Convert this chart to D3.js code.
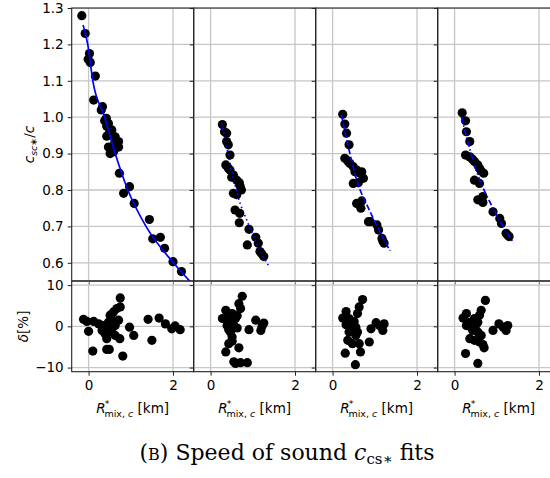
<!DOCTYPE html>
<head>
<meta charset="utf-8">
<title>Speed of sound fits</title>
<style>
    body { margin: 0; background: white; }
    svg { display: block; }
    .tick text { font: 13.5px "DejaVu Sans"; fill: #000; }
    .domain { display: none; }
    .tick line { stroke: #222; stroke-width: 1; }
    .grid line { stroke: #c6c6c6; stroke-width: 1.3; }
    .spine { fill: none; stroke: #222; stroke-width: 1.1; }
    .fit { fill: none; stroke: #0000ff; stroke-width: 1.7; }
    .lbl { font: 13.5px "DejaVu Sans"; fill: #000; }
    .cap { font: 22px "DejaVu Serif"; fill: #000; }
</style>
</head>
<body>
<svg></svg>
<script src="https://cdn.jsdelivr.net/npm/d3@7"></script>
<script>

    // ---- data ----
    var ratio1 = [[-0.16,1.279],[-0.08,1.23],[0.02,1.175],[-0.01,1.159],[0.04,1.15],[0.16,1.113],[0.12,1.047],
        [0.33,1.029],[0.30,1.02],[0.42,0.997],[0.47,0.983],[0.43,0.975],[0.55,0.965],[0.43,0.948],[0.63,0.946],
        [0.71,0.933],[0.47,0.918],[0.59,0.905],[0.51,0.9],[0.71,0.918],[0.73,0.846],[0.97,0.809],[0.83,0.791],
        [1.08,0.763],[1.44,0.719],[1.52,0.666],[1.70,0.67],[1.80,0.64],[2.0,0.603],[2.20,0.576],
        [0.50,0.96],[0.62,0.93],[0.38,0.99]];
    var ratio2 = [[0.28,0.98],[0.33,0.96],[0.38,0.956],[0.38,0.933],[0.42,0.924],[0.46,0.896],[0.36,0.869],
        [0.46,0.855],[0.42,0.86],[0.54,0.841],[0.50,0.835],[0.62,0.827],[0.68,0.82],[0.73,0.8],[0.54,0.791],
        [0.62,0.787],[0.58,0.745],[0.69,0.736],[0.68,0.71],[0.91,0.692],[0.87,0.649],[1.07,0.67],[1.13,0.654],
        [1.17,0.631],[1.26,0.617],[0.70,0.81],[1.21,0.625]];
    var ratio3 = [[0.24,1.008],[0.29,0.981],[0.33,0.956],[0.39,0.924],[0.29,0.887],[0.41,0.873],[0.49,0.864],
        [0.57,0.855],[0.65,0.846],[0.49,0.818],[0.61,0.82],[0.57,0.763],[0.67,0.75],[0.69,0.77],[0.69,0.85],
        [0.73,0.832],[0.85,0.713],[0.89,0.713],[1.05,0.704],[1.09,0.69],[1.17,0.667],[1.22,0.654],
        [0.36,0.88],[0.53,0.85],[1.19,0.66]];
    var ratio4 = [[0.18,1.012],[0.26,0.99],[0.28,0.96],[0.36,0.933],[0.26,0.896],[0.36,0.891],[0.47,0.878],
        [0.55,0.869],[0.59,0.86],[0.69,0.846],[0.47,0.827],[0.59,0.818],[0.67,0.782],[0.55,0.773],[0.67,0.766],
        [0.91,0.74],[1.07,0.722],[1.11,0.708],[1.22,0.681],[1.29,0.672],[0.42,0.885],[0.63,0.852],[1.26,0.676]];

    var fit1 = [[-0.13,1.253],[-0.02,1.2],[0.10,1.1],[0.38,1.0],[0.63,0.9],[0.93,0.8],[1.36,0.7],[2.01,0.6],[2.41,0.548]];
    var fit2 = [[0.27,0.983],[0.45,0.88],[0.65,0.782],[0.89,0.708],[1.1,0.65],[1.39,0.589]];
    var fit3 = [[0.21,1.006],[0.37,0.92],[0.57,0.828],[0.89,0.74],[1.36,0.633]];
    var fit4 = [[0.16,1.001],[0.51,0.855],[0.91,0.75],[1.40,0.654]];

    var resid1 = [[-0.12,1.7],[-0.04,1.2],[0.0,-1.2],[0.12,1.2],[0.10,-6.0],[0.32,-1.0],[0.39,-0.6],[0.43,-3.0],
        [0.47,1.0],[0.51,2.7],[0.59,3.5],[0.67,4.3],[0.75,6.9],[0.75,4.7],[0.71,1.5],[0.55,-1.4],[0.63,-2.2],
        [0.74,-3.0],[0.43,-5.6],[0.49,-5.6],[0.81,-7.2],[0.97,-0.2],[1.07,-2.2],[1.41,1.7],[1.5,-3.4],
        [1.67,2.0],[1.82,0.6],[1.97,-0.6],[2.05,0.1],[2.17,-0.8],[0.24,0.6],[0.36,0.2],[0.47,-0.2],
        [0.59,0.4],[0.39,-1.8],[0.55,1.8],[0.63,0.2]];
    var resid2 = [[0.75,7.3],[0.67,5.5],[0.71,4.3],[0.36,3.9],[0.28,1.9],[0.39,2.3],[0.51,3.1],[0.59,1.9],
        [0.39,0.2],[0.47,-1.4],[0.51,-2.6],[0.43,-4.2],[0.36,-6.2],[0.67,-5.2],[0.59,-9.0],[0.71,-8.8],
        [0.87,-8.8],[0.55,-8.6],[0.91,-0.8],[1.07,1.5],[1.19,-1.0],[1.26,0.8],[1.22,0],[0.55,0.2],
        [0.47,1.0],[0.63,-0.4],[0.51,-3.6],[0.43,-0.8],[0.63,2.6]];
    var resid3 = [[0.71,6.5],[0.63,4.7],[0.59,3.1],[0.32,3.6],[0.24,2.0],[0.39,1.9],[0.47,0.2],[0.39,-1.4],
        [0.59,-1.4],[0.36,-3.4],[0.47,-4.2],[0.63,-4.2],[0.87,-3.8],[0.30,-6.5],[0.66,-6.2],[0.54,-9.3],
        [0.91,-0.6],[1.03,0.9],[1.11,0.2],[1.22,0.6],[1.19,-1.0],[0.55,-2.2],[0.51,1.2],[0.43,-0.6],
        [0.55,-0.2],[0.32,0.4]];
    var resid4 = [[0.73,6.3],[0.63,3.9],[0.59,2.7],[0.28,3.1],[0.20,2.0],[0.36,1.0],[0.47,1.9],[0.28,0.2],
        [0.43,-1.0],[0.55,-1.4],[0.36,-3.0],[0.47,-3.4],[0.59,-3.8],[0.70,-5.2],[0.26,-6.6],[0.55,-9.0],
        [0.91,-1.0],[1.05,0.6],[1.22,-1.0],[1.26,0.2],[1.15,-0.2],[0.51,0.4],[0.39,-0.2],[0.55,1.0],
        [0.63,-2.2],[0.67,-4.4]];

    var ratioTicks = [0.6, 0.7, 0.8, 0.9, 1.0, 1.1, 1.2, 1.3];
    var residTicks = [-10, 0, 10];
    var rTicks = [0, 2];
    var dashes = [null, "1.5,3", "6,2.5", "6,2.5,1.5,2.5"];

    var panels = [
        {ratio: ratio1, fit: fit1, resid: resid1},
        {ratio: ratio2, fit: fit2, resid: resid2},
        {ratio: ratio3, fit: fit3, resid: resid3},
        {ratio: ratio4, fit: fit4, resid: resid4}
    ];

    var svg = d3.select("svg").attr("width", 550).attr("height", 478);

    var padLeft = 71.7, pw = 122, padTop = 8, topH = 273, botH = 90.7;

    var x = d3.scaleLinear().domain([-0.4, 2.49]).range([0, pw]);
    var y = d3.scaleLinear().domain([0.55, 1.3]).range([topH, 0]);
    var yr = d3.scaleLinear().domain([-11, 11]).range([botH, 0]);

    var defs = svg.append("defs");

    panels.forEach(function (p, i) {
        var gx = padLeft + i * pw;

        ["top", "bot"].forEach(function (k) {
            defs.append("clipPath").attr("id", "clip-" + k + i)
                .append("rect").attr("width", pw).attr("height", k === "top" ? topH : botH);
        });

        // top panel
        var g = svg.append("g").attr("transform", "translate(" + gx + "," + padTop + ")");
        var grid = g.append("g").attr("class", "grid").attr("clip-path", "url(#clip-top" + i + ")");
        grid.selectAll(".gy").data(ratioTicks).enter().append("line")
            .attr("x1", 0).attr("x2", pw).attr("y1", y).attr("y2", y);
        grid.selectAll(".gx").data(rTicks).enter().append("line")
            .attr("x1", x).attr("x2", x).attr("y1", 0).attr("y2", topH);

        var pl = g.append("g").attr("clip-path", "url(#clip-top" + i + ")");
        pl.selectAll("circle").data(p.ratio).enter().append("circle")
            .attr("cx", function (d) { return x(d[0]); })
            .attr("cy", function (d) { return y(d[1]); })
            .attr("r", 4.6).attr("fill", "#000");
        pl.append("path").attr("class", "fit")
            .attr("stroke-dasharray", dashes[i])
            .attr("d", d3.line().curve(d3.curveMonotoneX)
                .x(function (d) { return x(d[0]); })
                .y(function (d) { return y(d[1]); })(p.fit));

        var ya = g.append("g").call(d3.axisLeft(y).tickValues(ratioTicks).tickSize(4).tickPadding(4)
            .tickFormat(d3.format(".1f")));
        if (i > 0) ya.selectAll("text").remove();
        g.append("g").attr("transform", "translate(0," + topH + ")")
            .call(d3.axisBottom(x).tickValues(rTicks).tickSize(4)).selectAll("text").remove();
        g.append("rect").attr("class", "spine").attr("width", pw).attr("height", topH);

        // residual panel
        var b = svg.append("g").attr("transform", "translate(" + gx + "," + (padTop + topH) + ")");
        var bg = b.append("g").attr("class", "grid").attr("clip-path", "url(#clip-bot" + i + ")");
        bg.selectAll(".gy").data(residTicks).enter().append("line")
            .attr("x1", 0).attr("x2", pw).attr("y1", yr).attr("y2", yr);
        bg.selectAll(".gx").data(rTicks).enter().append("line")
            .attr("x1", x).attr("x2", x).attr("y1", 0).attr("y2", botH);

        b.append("g").attr("clip-path", "url(#clip-bot" + i + ")")
            .selectAll("circle").data(p.resid).enter().append("circle")
            .attr("cx", function (d) { return x(d[0]); })
            .attr("cy", function (d) { return yr(d[1]); })
            .attr("r", 4.6).attr("fill", "#000");

        var ra = b.append("g").call(d3.axisLeft(yr).tickValues(residTicks).tickSize(4).tickPadding(4)
            .tickFormat(function (d) { return d < 0 ? "\u2212" + Math.abs(d) : d; }));
        if (i > 0) ra.selectAll("text").remove();
        b.append("g").attr("transform", "translate(0," + botH + ")")
            .call(d3.axisBottom(x).tickValues(rTicks).tickSize(4).tickPadding(5)
                .tickFormat(d3.format("d")));
        b.append("rect").attr("class", "spine").attr("width", pw).attr("height", botH);

        // x label
        var t = svg.append("text").attr("class", "lbl").attr("text-anchor", "middle")
            .attr("x", gx + pw / 2).attr("y", 413);
        t.append("tspan").attr("font-style", "italic").text("R");
        t.append("tspan").attr("font-size", "9.5px").attr("dy", -6).attr("dx", -1).text("*");
        t.append("tspan").attr("font-size", "9.5px").attr("dy", 10).attr("dx", -5).text("mix, ");
        t.append("tspan").attr("font-size", "9.5px").attr("font-style", "italic").text("c");
        t.append("tspan").attr("dy", -4).text(" [km]");
    });

    // y labels
    var yl = svg.append("text").attr("class", "lbl").attr("text-anchor", "middle")
        .attr("transform", "translate(34," + (padTop + topH / 2) + ") rotate(-90)");
    yl.append("tspan").attr("font-style", "italic").text("c");
    yl.append("tspan").attr("font-size", "9.5px").attr("font-style", "italic").attr("dy", 3).text("sc");
    yl.append("tspan").attr("font-size", "9.5px").text("\u2217");
    yl.append("tspan").attr("dy", -3).text("/");
    yl.append("tspan").attr("font-style", "italic").text("c");

    var dl = svg.append("text").attr("class", "lbl").attr("text-anchor", "middle")
        .attr("transform", "translate(28," + (padTop + topH + botH / 2) + ") rotate(-90)");
    dl.append("tspan").attr("font-style", "italic").text("\u03b4");
    dl.append("tspan").text("[%]");

    // caption
    var cap = svg.append("text").attr("class", "cap").attr("text-anchor", "middle")
        .attr("x", 287).attr("y", 460);
    cap.append("tspan").text("(");
    cap.append("tspan").attr("font-size", "16px").text("B");
    cap.append("tspan").text(") Speed of sound ");
    cap.append("tspan").attr("font-style", "italic").text("c");
    cap.append("tspan").attr("font-size", "15px").attr("dy", 4).text("cs\u2217");
    cap.append("tspan").attr("dy", -4).text(" fits");

</script>
</body>
